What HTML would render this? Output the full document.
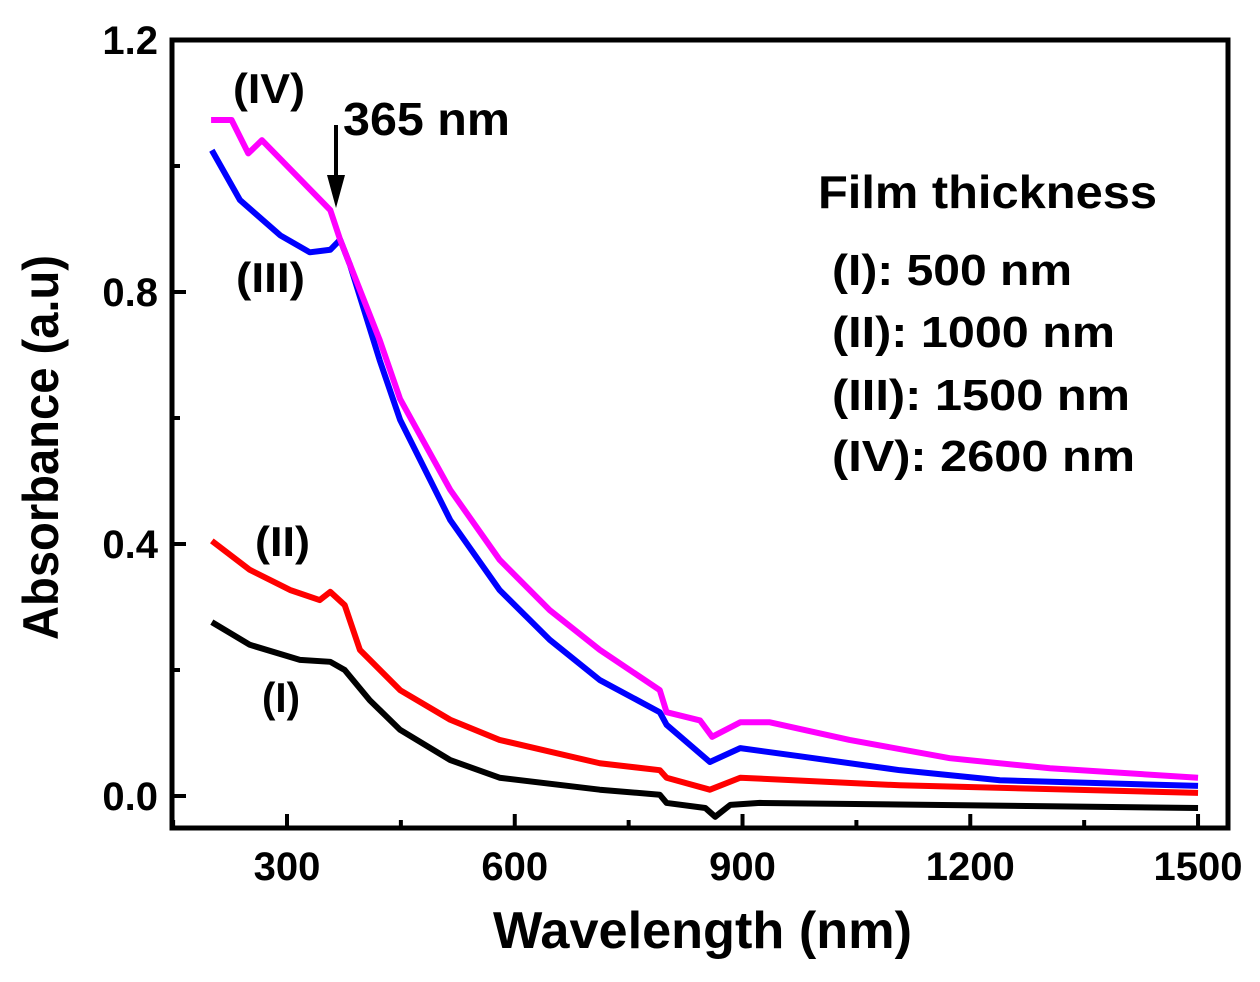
<!DOCTYPE html>
<html><head><meta charset="utf-8"><style>
body{margin:0;background:#fff;}
svg text{font-family:"Liberation Sans",Arial,sans-serif;font-weight:bold;fill:#000;}
</style></head><body>
<svg id="chart" width="1260" height="977">
<g id="axes"></g><g id="series"></g>
<text x="818" y="208" font-size="46" textLength="339" lengthAdjust="spacingAndGlyphs">Film thickness</text>
<text x="832" y="285" font-size="44" textLength="240" lengthAdjust="spacingAndGlyphs">(I): 500 nm</text>
<text x="832" y="347" font-size="44" textLength="283" lengthAdjust="spacingAndGlyphs">(II): 1000 nm</text>
<text x="832" y="410" font-size="44" textLength="298" lengthAdjust="spacingAndGlyphs">(III): 1500 nm</text>
<text x="832" y="471" font-size="44" textLength="303" lengthAdjust="spacingAndGlyphs">(IV): 2600 nm</text>
<text x="233" y="103" font-size="42" textLength="72" lengthAdjust="spacingAndGlyphs">(IV)</text>
<text x="236" y="292" font-size="42" textLength="69" lengthAdjust="spacingAndGlyphs">(III)</text>
<text x="255" y="556" font-size="42" textLength="55" lengthAdjust="spacingAndGlyphs">(II)</text>
<text x="262" y="712" font-size="42" textLength="38" lengthAdjust="spacingAndGlyphs">(I)</text>
<text x="343" y="135" font-size="46" textLength="167" lengthAdjust="spacingAndGlyphs">365 nm</text>
<g>
<line x1="336" y1="125" x2="336" y2="185" stroke="#000" stroke-width="4"/>
<polygon points="327,175 345,175 336,208" fill="#000"/>
</g>
<text x="493" y="948" font-size="52" textLength="419" lengthAdjust="spacingAndGlyphs">Wavelength (nm)</text>
<text transform="translate(58,640) rotate(-90)" font-size="50" textLength="385" lengthAdjust="spacingAndGlyphs">Absorbance (a.u)</text>
</svg>
<script>
const xTicks=[300,600,900,1200,1500];
const yTicks=[0.0,0.4,0.8,1.2];
const yTickLabels=["0.0","0.4","0.8","1.2"];
const wlI=[201,251,317,357,376,409,449,515,580,712,791,800,851,864,884,923,1500];
const absI=[0.276,0.24,0.216,0.213,0.2,0.152,0.105,0.057,0.029,0.01,0.002,-0.011,-0.019,-0.033,-0.014,-0.011,-0.019];
const wlII=[201,251,304,343,357,376,396,449,515,580,712,791,800,857,897,1107,1500];
const absII=[0.405,0.359,0.327,0.311,0.324,0.303,0.232,0.168,0.121,0.089,0.052,0.041,0.029,0.01,0.029,0.017,0.005];
const wlIII=[201,238,291,330,357,370,383,422,449,515,580,646,712,791,800,857,897,976,1107,1239,1500];
const absIII=[1.025,0.946,0.89,0.863,0.867,0.883,0.843,0.692,0.597,0.438,0.327,0.248,0.184,0.133,0.113,0.054,0.076,0.063,0.041,0.025,0.016];
const wlIV=[200,227,249,267,357,370,422,449,515,580,646,712,791,800,844,860,897,936,1041,1173,1305,1500];
const absIV=[1.073,1.073,1.02,1.041,0.93,0.883,0.724,0.63,0.486,0.375,0.295,0.232,0.168,0.133,0.12,0.094,0.117,0.117,0.089,0.06,0.044,0.029];
const NS='http://www.w3.org/2000/svg';
const X=v=>287+(v-300)*0.7592, Y=v=>796-v*630;
const L=172,R=1228,T=40,B=828;
const ax=document.getElementById('axes');
function mk(t,a,p){const e=document.createElementNS(NS,t);for(const k in a)e.setAttribute(k,a[k]);p.appendChild(e);return e;}
const frame=mk('rect',{x:L,y:T,width:R-L,height:B-T,fill:'none',stroke:'#000','stroke-width':5},ax);


xTicks.forEach(v=>{
 mk('line',{x1:X(v),x2:X(v),y1:B,y2:B-14,stroke:'#000','stroke-width':4},ax);
 mk('line',{x1:X(v-150),x2:X(v-150),y1:B,y2:B-8,stroke:'#000','stroke-width':4},ax);
 const t=mk('text',{x:X(v),y:880,'font-size':40,'text-anchor':'middle'},ax);t.textContent=v;
 
 
});
yTicks.forEach((v,i)=>{
 mk('line',{x1:L,x2:L+14,y1:Y(v),y2:Y(v),stroke:'#000','stroke-width':4},ax);
 if(i>0)mk('line',{x1:L,x2:L+8,y1:Y(v-0.2),y2:Y(v-0.2),stroke:'#000','stroke-width':4},ax);
 const t=mk('text',{x:158,y:Y(v)+14,'font-size':40,'text-anchor':'end'},ax);t.textContent=yTickLabels[i];
 
 
});
const sg=document.getElementById('series');
[[wlI,absI,'#000','series-i-500nm'],[wlII,absII,'#ff0000','series-ii-1000nm'],[wlIII,absIII,'#0000ff','series-iii-1500nm'],[wlIV,absIV,'#ff00ff','series-iv-2600nm']].forEach(s=>{
 const p=mk('polyline',{points:s[0].map((w,i)=>X(w)+','+Y(s[1][i])).join(' '),fill:'none',stroke:s[2],'stroke-width':6,'stroke-linejoin':'round'},sg);
 
 
});
</script>
</body></html>
